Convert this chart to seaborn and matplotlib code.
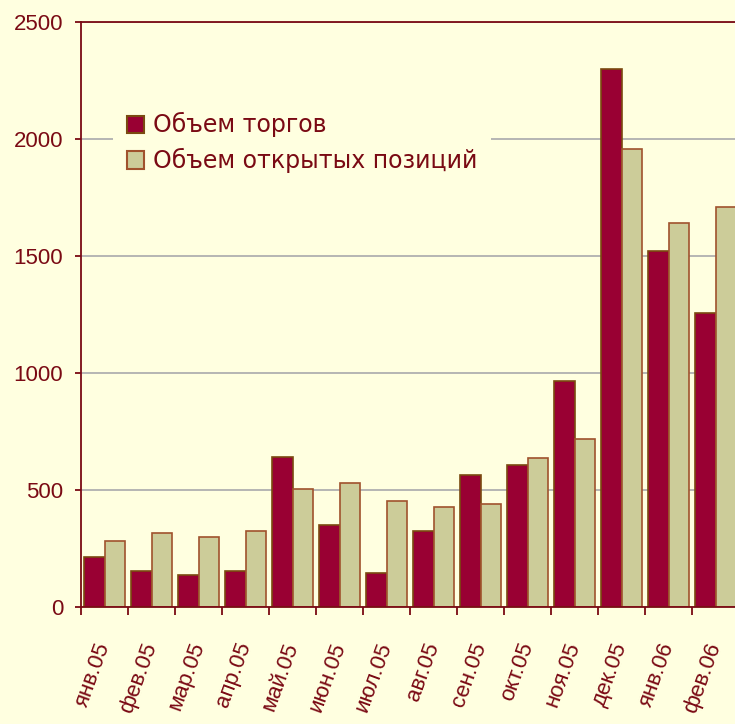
import pandas as pd
import numpy as np
import seaborn as sns
import matplotlib.pyplot as plt
from matplotlib.ticker import FixedLocator

months = ['янв.05', 'фев.05', 'мар.05', 'апр.05', 'май.05', 'июн.05', 'июл.05',
          'авг.05', 'сен.05', 'окт.05', 'ноя.05', 'дек.05', 'янв.06', 'фев.06']
trade = [214, 154, 137, 154, 641, 350, 145, 325, 564, 607, 966, 2299, 1521, 1256]
open_pos = [282, 316, 299, 325, 504, 530, 453, 427, 440, 637, 718, 1957, 1641, 1709]
series = ['Объем торгов', 'Объем открытых позиций']

bg = '#FFFFE0'
dark = '#7A0A14'

df = pd.DataFrame({
    'month': months * 2,
    'value': trade + open_pos,
    'series': [series[0]] * len(months) + [series[1]] * len(months),
})

sns.set_style('white')
plt.rcParams['font.family'] = ['Liberation Sans', 'DejaVu Sans']

fig = plt.figure(figsize=(7.35, 7.24), dpi=100, facecolor=bg)
ax = fig.add_axes([81 / 735, 117 / 724, 658 / 735, 585 / 724])
ax.set_facecolor(bg)

sns.barplot(data=df, x='month', y='value', hue='series', ax=ax,
            palette=['#990033', '#CCCC99'], width=0.88, saturation=1,
            linewidth=1.2)
edges = ['#7A4A10', '#A0522D']
for cont, ec in zip(ax.containers, edges):
    for p in cont:
        p.set_edgecolor(ec)

ax.set_ylim(0, 2500)
ax.set_xlim(-0.5, len(months) - 0.5)
ax.set_yticks([0, 500, 1000, 1500, 2000, 2500])
ax.yaxis.grid(True, color='#B0B0B0', linewidth=1.3)
ax.set_axisbelow(True)

ax.set_xticks(range(len(months)))
ax.set_xticklabels(months, rotation=70, ha='right', va='center',
                   rotation_mode='anchor', color=dark, fontsize=16)
ax.xaxis.set_minor_locator(FixedLocator(np.arange(-0.5, len(months), 1)))
ax.tick_params(axis='x', which='major', length=0, pad=26)
ax.tick_params(axis='x', which='minor', length=6, width=1.3, color=dark,
               direction='out', bottom=True)
ax.tick_params(axis='y', length=4.3, width=1.3, color=dark, direction='out',
               labelcolor=dark, labelsize=16, pad=8.5, left=True)

for side in ['left', 'bottom', 'top']:
    ax.spines[side].set_color(dark)
    ax.spines[side].set_linewidth(1.3)
ax.spines['right'].set_visible(False)

ax.set_xlabel('')
ax.set_ylabel('')

leg = ax.legend(loc='upper left', bbox_to_anchor=(0.03, 0.89), frameon=True,
                facecolor=bg, edgecolor='none', framealpha=1,
                prop={'family': 'DejaVu Sans', 'size': 17},
                handlelength=0.75, handleheight=0.75, handletextpad=0.35,
                labelspacing=0.45, borderpad=0.6)
for t in leg.get_texts():
    t.set_color(dark)
for h, ec in zip(leg.legend_handles, edges):
    h.set_edgecolor(ec)
    h.set_linewidth(1.5)

fig.savefig('out.png', dpi=100, facecolor=bg)
